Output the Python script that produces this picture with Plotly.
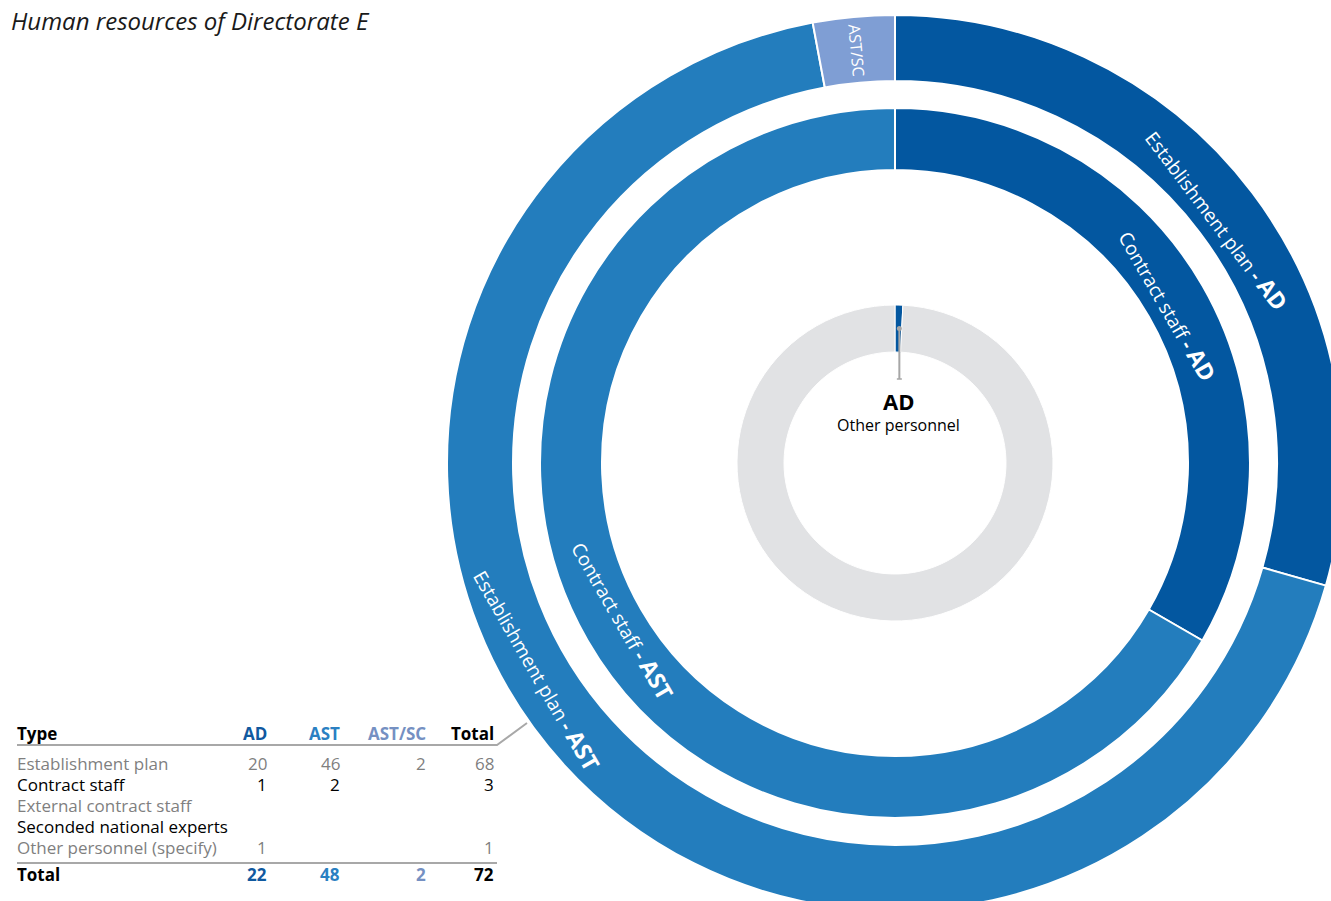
import plotly.graph_objects as go
import math

# Paper is a little larger than the window so the rings run off the right and bottom edges
W, H = 1400, 960
CX, CY = 895, 463          # ring centre (px from top-left)
FONT = "Open Sans"

title = "Human resources of Directorate E"

# Staff counts by type and grade
grades = ["AD", "AST", "AST/SC"]
row_types = ["Establishment plan", "Contract staff", "External contract staff",
             "Seconded national experts", "Other personnel (specify)"]
establishment_plan = [20, 46, 2]
contract_staff = [1, 2, None]
external_contract_staff = [None, None, None]
seconded_national_experts = [None, None, None]
other_personnel = [1, None, None]
other_personnel_ring_rest = 125   # grey remainder of the innermost ring

rows = [establishment_plan, contract_staff, external_contract_staff,
        seconded_national_experts, other_personnel]

# Colours
C_AD, C_AST, C_ASTSC = "#0357a0", "#237dbd", "#7f9ed4"
C_GREY_RING = "#e1e2e4"
C_HEAD = {"AD": "#10599f", "AST": "#2a80c2", "AST/SC": "#7590c2"}
C_ROW = ["#7f7f7f", "#000000", "#7f7f7f", "#000000", "#7f7f7f"]


def px(x):
    return x / W


def py(y):
    return 1 - y / H


def domain(r):
    return dict(x=[(CX - r) / W, (CX + r) / W], y=[(H - CY - r) / H, (H - CY + r) / H])


def ring_label(prefix, grade):
    return f"{prefix} <b>- <span style='font-size:23px'>{grade}</span></b>"


def mid_angle(values, k):
    """Clockwise angle (deg from 12 o'clock) of the middle of slice k."""
    vals = [v or 0 for v in values]
    return 360 * (sum(vals[:k]) + vals[k] / 2) / sum(vals)


fig = go.Figure()

# Outer ring: establishment plan (AST and AST/SC captions are placed separately below)
R1_OUT, R1_IN = 448, 382
fig.add_trace(go.Pie(
    values=establishment_plan, labels=grades,
    text=[ring_label("Establishment plan", "AD"), "", ""],
    textinfo="text", textposition="inside", insidetextorientation="auto",
    insidetextfont=dict(color="white", size=19, family=FONT),
    marker=dict(colors=[C_AD, C_AST, C_ASTSC], line=dict(color="white", width=2)),
    hole=R1_IN / R1_OUT, domain=domain(R1_OUT), sort=False, direction="clockwise",
    rotation=0, showlegend=False, hoverinfo="skip",
))

# Middle ring: contract staff
R2_OUT, R2_IN = 355, 293
cs_vals = [v or 0 for v in contract_staff[:2]]
fig.add_trace(go.Pie(
    values=cs_vals, labels=grades[:2],
    text=[ring_label("Contract staff", "AD"), ring_label("Contract staff", "AST")],
    textinfo="text", textposition="inside", insidetextorientation="auto",
    insidetextfont=dict(color="white", size=19, family=FONT),
    marker=dict(colors=[C_AD, C_AST], line=dict(color="white", width=2)),
    hole=R2_IN / R2_OUT, domain=domain(R2_OUT), sort=False, direction="clockwise",
    rotation=0, showlegend=False, hoverinfo="skip",
))

# Inner ring: other personnel
R3_OUT, R3_IN = 158, 111
fig.add_trace(go.Pie(
    values=[other_personnel[0], other_personnel_ring_rest], labels=["AD", "rest"],
    textinfo="none",
    marker=dict(colors=[C_AD, C_GREY_RING], line=dict(color="white", width=1)),
    hole=R3_IN / R3_OUT, domain=domain(R3_OUT), sort=False, direction="clockwise",
    rotation=0, showlegend=False, hoverinfo="skip",
))

annotations = []
shapes = []


def note(text, x, y, size, color, xanchor="center", yanchor="middle", angle=0, bold=False):
    annotations.append(dict(text=f"<b>{text}</b>" if bold else text, x=px(x), y=py(y),
                            xref="paper", yref="paper", xanchor=xanchor, yanchor=yanchor,
                            showarrow=False, textangle=angle, borderpad=0,
                            font=dict(family=FONT, size=size, color=color)))


def polar(r, deg):
    a = math.radians(deg)
    return CX + r * math.sin(a), CY - r * math.cos(a)


# Title
note(f"<i>{title}</i>", 10, 21, 24, "#1a1a1a", xanchor="left")

# Establishment plan AST caption, aligned with the contract-staff AST caption
a_ast = mid_angle(cs_vals, 1)
x_ast, y_ast = polar(413, a_ast)
note(ring_label("Establishment plan", "AST"), x_ast, y_ast, 19, "white", angle=a_ast - 180)

# AST/SC caption, written radially in the thin outer slice
a_sc = mid_angle(establishment_plan, 2)
x_sc, y_sc = polar((R1_OUT + R1_IN) / 2, a_sc)
note("AST/SC", x_sc, y_sc, 16, "white", angle=a_sc - 270)

# Leader from the inner AD slice to its caption
a_in = mid_angle([other_personnel[0], other_personnel_ring_rest], 0)
dot_x, dot_y = polar((R3_OUT + R3_IN) / 2, a_in)
dot_x += 1
end_y = 379
shapes.append(dict(type="line", xref="paper", yref="paper", x0=px(dot_x), x1=px(dot_x),
                   y0=py(dot_y), y1=py(end_y), line=dict(color="#a6a6a6", width=2)))
shapes.append(dict(type="line", xref="paper", yref="paper", x0=px(dot_x - 2.5), x1=px(dot_x + 2.5),
                   y0=py(end_y), y1=py(end_y), line=dict(color="#a6a6a6", width=1.5)))
shapes.append(dict(type="circle", xref="paper", yref="paper", x0=px(dot_x - 2.5), x1=px(dot_x + 2.5),
                   y0=py(dot_y - 2.5), y1=py(dot_y + 2.5), fillcolor="#a6a6a6", line=dict(width=0)))
note("AD", 898, 401, 22, "black", bold=True)
note("Other personnel", 898, 425, 16, "black")

# Table
TFS = 17
col_right = [268, 341, 427]
total_right = 495
left = 16
head_y = 733
row_y0, row_dy = 763, 21
total_y = 874

note("Type", left, head_y, TFS, "black", xanchor="left", bold=True)
for g, xr in zip(grades, col_right):
    note(g, xr, head_y, TFS, C_HEAD[g], xanchor="right", bold=True)
note("Total", total_right, head_y, TFS, "black", xanchor="right", bold=True)

for i, (name, vals) in enumerate(zip(row_types, rows)):
    y = row_y0 + i * row_dy
    note(name, left, y, TFS, C_ROW[i], xanchor="left")
    for v, xr in zip(vals, col_right):
        if v is not None:
            note(str(v), xr, y, TFS, C_ROW[i], xanchor="right")
    present = [v for v in vals if v is not None]
    if present:
        note(str(sum(present)), total_right, y, TFS, C_ROW[i], xanchor="right")

col_totals = [sum(r[k] for r in rows if r[k] is not None) for k in range(3)]
note("Total", left, total_y, TFS, "black", xanchor="left", bold=True)
for g, v, xr in zip(grades, col_totals, col_right):
    note(str(v), xr, total_y, TFS, C_HEAD[g], xanchor="right", bold=True)
note(str(sum(col_totals)), total_right, total_y, TFS, "black", xanchor="right", bold=True)

# Rules under header (with leader towards the outer ring) and above total
shapes.append(dict(type="path", xref="paper", yref="paper",
                   path=f"M {px(17)} {py(745)} L {px(497)} {py(745)} L {px(527)} {py(723)}",
                   line=dict(color="#a8a8a8", width=2)))
shapes.append(dict(type="line", xref="paper", yref="paper", x0=px(17), x1=px(497),
                   y0=py(863), y1=py(863), line=dict(color="#a8a8a8", width=2)))

fig.update_layout(
    width=W, height=H, margin=dict(l=0, r=0, t=0, b=0),
    paper_bgcolor="white", plot_bgcolor="white",
    annotations=annotations, shapes=shapes, showlegend=False,
    font=dict(family=FONT),
)

fig.write_html(
    "out.html",
    config={"displayModeBar": False},
    post_script="document.body.style.margin='0';document.body.style.overflow='hidden';",
)
